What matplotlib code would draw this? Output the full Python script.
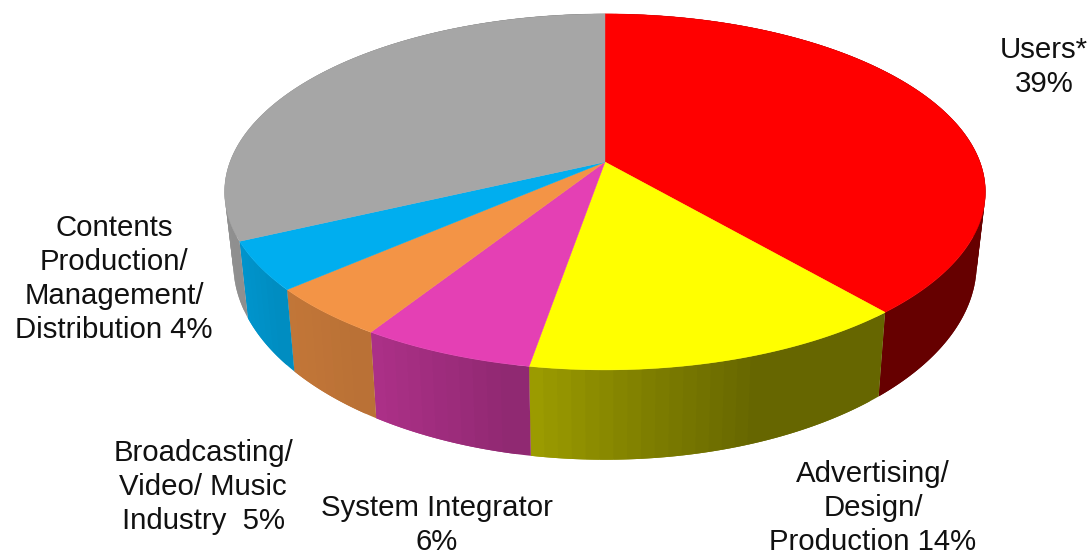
import matplotlib
matplotlib.use('Agg')
import matplotlib.pyplot as plt
import numpy as np

# slice sizes, labels carry the printed percentages
shares = [38.7, 14.0, 6.3, 4.6, 4.4, 32]
colors = ['#ff0000', '#ffff00', '#e440b4', '#f39446', '#00aeef', '#a6a6a6']
labels = ['Users*\n39%', 'Advertising/\nDesign/\nProduction 14%', 'System Integrator\n6%',
          'Broadcasting/\nVideo/ Music\nIndustry  5%', 'Contents\nProduction/\nManagement/\nDistribution 4%', '']
label_pos = [(1044, 67), (873, 508), (437, 525), (203, 487), (114, 279)]

plt.rcParams['font.family'] = ['Liberation Sans', 'DejaVu Sans']

# pie centre and perspective of the disc, in pixels
cx, cy = 605, 162
a, b, k = 375, 173, 0.168
depth_y, depth_b, depth_x = 69, 1.1, 0.977

# side shading, darker to the right
shade_x = [225, 290, 375, 530, 650, 760, 990]
shade_v = [0.88, 0.80, 0.76, 0.62, 0.50, 0.40, 0.40]


def rim(theta):
    X = np.sin(theta)
    Y = np.cos(theta)
    w = 1 + k * Y
    return a * X / w, -b * Y / w


def shaded(col, x):
    rgb = np.array(matplotlib.colors.to_rgb(col))
    return tuple(rgb * np.interp(x, shade_x, shade_v))


fig = plt.figure(figsize=(10.92, 5.56), dpi=100)
ax = fig.add_axes([0, 0, 1, 1])
ax.set_xlim(0, 1092)
ax.set_ylim(556, 0)
ax.axis('off')

edges = np.cumsum([0] + shares) / sum(shares) * 2 * np.pi

# sides first
for i in range(len(shares)):
    n = max(2, int(shares[i] * 2))
    t = np.linspace(edges[i], edges[i + 1], n + 1)
    for j in range(n):
        # run each strip on under the next one so no seams show
        t2 = np.linspace(t[j], t[min(j + 2, n)], 8)
        dx, dy = rim(t2)
        xs = np.concatenate([cx + dx, (cx + dx * depth_x)[::-1]])
        ys = np.concatenate([cy + dy, (cy + depth_y + depth_b * dy)[::-1]])
        c = shaded(colors[i], xs.mean())
        ax.fill(xs, ys, color=c, lw=0, zorder=2 + (n - j) * 0.001)

# top of the pie
for i in range(len(shares)):
    t = np.linspace(edges[i], edges[i + 1], 120)
    dx, dy = rim(t)
    ax.fill(np.r_[cx, cx + dx], np.r_[cy, cy + dy], color=colors[i], lw=0.3, zorder=3)

for txt, pos in zip(labels, label_pos):
    ax.text(pos[0], pos[1], txt, ha='center', va='center', fontsize=21.2, color='#111111', linespacing=1.28)

fig.savefig('out.png', dpi=100)
